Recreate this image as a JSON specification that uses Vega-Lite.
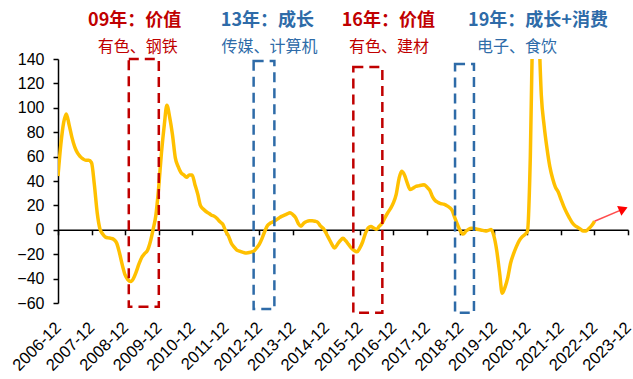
{
  "$schema": "https://vega.github.io/schema/vega-lite/v6.json",
  "width": 570,
  "height": 244,
  "autosize": {"type": "none"},
  "padding": {"left": 58, "top": 59, "right": 5, "bottom": 76},
  "background": "white",
  "config": {
    "view": {"stroke": null},
    "font": "Liberation Sans",
    "axis": {"labelOverlap": false}
  },
  "datasets": {
    "series": [
      {"date": "2006-12-01", "value": 44},
      {"date": "2007-01-01", "value": 70}, {"date": "2007-02-01", "value": 88}, {"date": "2007-03-01", "value": 95},
      {"date": "2007-04-01", "value": 86}, {"date": "2007-05-01", "value": 76}, {"date": "2007-06-01", "value": 68},
      {"date": "2007-07-01", "value": 63}, {"date": "2007-08-01", "value": 60}, {"date": "2007-09-01", "value": 58},
      {"date": "2007-10-01", "value": 57}, {"date": "2007-11-01", "value": 57}, {"date": "2007-12-01", "value": 55},
      {"date": "2008-01-01", "value": 37}, {"date": "2008-02-01", "value": 14}, {"date": "2008-03-01", "value": 1},
      {"date": "2008-04-01", "value": -3.5}, {"date": "2008-05-01", "value": -6}, {"date": "2008-06-01", "value": -6.6},
      {"date": "2008-07-01", "value": -7}, {"date": "2008-08-01", "value": -8}, {"date": "2008-09-01", "value": -11},
      {"date": "2008-10-01", "value": -19}, {"date": "2008-11-01", "value": -29}, {"date": "2008-12-01", "value": -37},
      {"date": "2009-01-01", "value": -41}, {"date": "2009-02-01", "value": -42.4}, {"date": "2009-03-01", "value": -40},
      {"date": "2009-04-01", "value": -34.5}, {"date": "2009-05-01", "value": -28}, {"date": "2009-06-01", "value": -22.5},
      {"date": "2009-07-01", "value": -19.5}, {"date": "2009-08-01", "value": -17}, {"date": "2009-09-01", "value": -10},
      {"date": "2009-10-01", "value": 0}, {"date": "2009-11-01", "value": 12}, {"date": "2009-12-01", "value": 34},
      {"date": "2010-01-01", "value": 63}, {"date": "2010-02-01", "value": 86}, {"date": "2010-03-01", "value": 102},
      {"date": "2010-04-01", "value": 92}, {"date": "2010-05-01", "value": 78}, {"date": "2010-06-01", "value": 59},
      {"date": "2010-07-01", "value": 52}, {"date": "2010-08-01", "value": 47}, {"date": "2010-09-01", "value": 45},
      {"date": "2010-10-01", "value": 43}, {"date": "2010-11-01", "value": 45}, {"date": "2010-12-01", "value": 45},
      {"date": "2011-01-01", "value": 37}, {"date": "2011-02-01", "value": 29}, {"date": "2011-03-01", "value": 20},
      {"date": "2011-04-01", "value": 17}, {"date": "2011-05-01", "value": 15}, {"date": "2011-06-01", "value": 13.5},
      {"date": "2011-07-01", "value": 12}, {"date": "2011-08-01", "value": 11}, {"date": "2011-09-01", "value": 9},
      {"date": "2011-10-01", "value": 6.5}, {"date": "2011-11-01", "value": 4.5}, {"date": "2011-12-01", "value": -1},
      {"date": "2012-01-01", "value": -5}, {"date": "2012-02-01", "value": -11}, {"date": "2012-03-01", "value": -14},
      {"date": "2012-04-01", "value": -16.6}, {"date": "2012-05-01", "value": -17.5}, {"date": "2012-06-01", "value": -18.3},
      {"date": "2012-07-01", "value": -19}, {"date": "2012-08-01", "value": -18.8}, {"date": "2012-09-01", "value": -18.3},
      {"date": "2012-10-01", "value": -17.6}, {"date": "2012-11-01", "value": -15}, {"date": "2012-12-01", "value": -12},
      {"date": "2013-01-01", "value": -7}, {"date": "2013-02-01", "value": -1}, {"date": "2013-03-01", "value": 3.5},
      {"date": "2013-04-01", "value": 5.5}, {"date": "2013-05-01", "value": 6.5}, {"date": "2013-06-01", "value": 8},
      {"date": "2013-07-01", "value": 9.5}, {"date": "2013-08-01", "value": 11}, {"date": "2013-09-01", "value": 12},
      {"date": "2013-10-01", "value": 13}, {"date": "2013-11-01", "value": 14}, {"date": "2013-12-01", "value": 12.5},
      {"date": "2014-01-01", "value": 10}, {"date": "2014-02-01", "value": 5}, {"date": "2014-03-01", "value": 3},
      {"date": "2014-04-01", "value": 5.5}, {"date": "2014-05-01", "value": 6.8}, {"date": "2014-06-01", "value": 7.4},
      {"date": "2014-07-01", "value": 7.4}, {"date": "2014-08-01", "value": 7}, {"date": "2014-09-01", "value": 6},
      {"date": "2014-10-01", "value": 3}, {"date": "2014-11-01", "value": 1}, {"date": "2014-12-01", "value": -3},
      {"date": "2015-01-01", "value": -7.5}, {"date": "2015-02-01", "value": -12}, {"date": "2015-03-01", "value": -15},
      {"date": "2015-04-01", "value": -12}, {"date": "2015-05-01", "value": -9}, {"date": "2015-06-01", "value": -7},
      {"date": "2015-07-01", "value": -9}, {"date": "2015-08-01", "value": -12}, {"date": "2015-09-01", "value": -15},
      {"date": "2015-10-01", "value": -17}, {"date": "2015-11-01", "value": -18}, {"date": "2015-12-01", "value": -15},
      {"date": "2016-01-01", "value": -10}, {"date": "2016-02-01", "value": -3}, {"date": "2016-03-01", "value": 1.5},
      {"date": "2016-04-01", "value": 2.7}, {"date": "2016-05-01", "value": 1.5}, {"date": "2016-06-01", "value": 0.5},
      {"date": "2016-07-01", "value": 3}, {"date": "2016-08-01", "value": 5.5}, {"date": "2016-09-01", "value": 10},
      {"date": "2016-10-01", "value": 14}, {"date": "2016-11-01", "value": 17.5}, {"date": "2016-12-01", "value": 22},
      {"date": "2017-01-01", "value": 29}, {"date": "2017-02-01", "value": 42}, {"date": "2017-03-01", "value": 48},
      {"date": "2017-04-01", "value": 45}, {"date": "2017-05-01", "value": 38.5}, {"date": "2017-06-01", "value": 33},
      {"date": "2017-07-01", "value": 34}, {"date": "2017-08-01", "value": 35.5}, {"date": "2017-09-01", "value": 36},
      {"date": "2017-10-01", "value": 36.5}, {"date": "2017-11-01", "value": 37}, {"date": "2017-12-01", "value": 35},
      {"date": "2018-01-01", "value": 32.5}, {"date": "2018-02-01", "value": 27}, {"date": "2018-03-01", "value": 24},
      {"date": "2018-04-01", "value": 22.5}, {"date": "2018-05-01", "value": 21.5}, {"date": "2018-06-01", "value": 21},
      {"date": "2018-07-01", "value": 20}, {"date": "2018-08-01", "value": 18.5}, {"date": "2018-09-01", "value": 16},
      {"date": "2018-10-01", "value": 10}, {"date": "2018-11-01", "value": 4}, {"date": "2018-12-01", "value": -1},
      {"date": "2019-01-01", "value": -3.5}, {"date": "2019-02-01", "value": -1}, {"date": "2019-03-01", "value": 0.5},
      {"date": "2019-04-01", "value": 1.2}, {"date": "2019-05-01", "value": 1}, {"date": "2019-06-01", "value": 0.5},
      {"date": "2019-07-01", "value": 0}, {"date": "2019-08-01", "value": -0.5}, {"date": "2019-09-01", "value": -1},
      {"date": "2019-10-01", "value": -0.5}, {"date": "2019-11-01", "value": 0.3}, {"date": "2019-12-01", "value": -5},
      {"date": "2020-01-01", "value": -17}, {"date": "2020-02-01", "value": -35}, {"date": "2020-03-01", "value": -52},
      {"date": "2020-04-01", "value": -47}, {"date": "2020-05-01", "value": -39}, {"date": "2020-06-01", "value": -27},
      {"date": "2020-07-01", "value": -20}, {"date": "2020-08-01", "value": -14}, {"date": "2020-09-01", "value": -9},
      {"date": "2020-10-01", "value": -6}, {"date": "2020-11-01", "value": -4}, {"date": "2020-12-01", "value": -1},
      {"date": "2021-01-01", "value": 60}, {"date": "2021-02-01", "value": 190}, {"date": "2021-03-01", "value": 230},
      {"date": "2021-04-01", "value": 170}, {"date": "2021-05-01", "value": 110}, {"date": "2021-06-01", "value": 85},
      {"date": "2021-07-01", "value": 67}, {"date": "2021-08-01", "value": 52}, {"date": "2021-09-01", "value": 42},
      {"date": "2021-10-01", "value": 35}, {"date": "2021-11-01", "value": 31}, {"date": "2021-12-01", "value": 25},
      {"date": "2022-01-01", "value": 19}, {"date": "2022-02-01", "value": 14}, {"date": "2022-03-01", "value": 10},
      {"date": "2022-04-01", "value": 6}, {"date": "2022-05-01", "value": 3.5}, {"date": "2022-06-01", "value": 2},
      {"date": "2022-07-01", "value": 0.5}, {"date": "2022-08-01", "value": -1}, {"date": "2022-09-01", "value": -1},
      {"date": "2022-10-01", "value": 1}, {"date": "2022-11-01", "value": 3.5}, {"date": "2022-12-01", "value": 7}
    ],
    "periods": [
      {"date": "2009-01-10", "end": "2009-12-03", "value": 140, "bottom": -63, "theme": "价值"},
      {"date": "2012-10-01", "end": "2013-05-15", "value": 138.4, "bottom": -65, "theme": "成长"},
      {"date": "2015-09-22", "end": "2016-08-03", "value": 133.4, "bottom": -68, "theme": "价值"},
      {"date": "2018-10-04", "end": "2019-04-28", "value": 136, "bottom": -68, "theme": "成长"}
    ],
    "headings": [
      {"date": "2009-03-15", "value": 171, "text": "09年：价值", "theme": "价值"},
      {"date": "2013-03-01", "value": 171, "text": "13年：成长", "theme": "成长"},
      {"date": "2016-10-07", "value": 171, "text": "16年：价值", "theme": "价值"},
      {"date": "2021-03-25", "value": 171, "text": "19年：成长+消费", "theme": "成长"}
    ],
    "sectors": [
      {"date": "2009-04-18", "value": 150, "text": "有色、钢铁", "theme": "价值"},
      {"date": "2013-03-22", "value": 150, "text": "传媒、计算机", "theme": "成长"},
      {"date": "2016-10-15", "value": 150, "text": "有色、建材", "theme": "价值"},
      {"date": "2020-08-10", "value": 150, "text": "电子、食饮", "theme": "成长"}
    ],
    "outlook": [
      {"date": "2022-12-01", "value": 7},
      {"date": "2023-11-10", "value": 18}
    ],
    "outlookHead": [
      {"date": "2023-10-12", "value": 17}
    ]
  },
  "encoding": {
    "x": {
      "field": "date",
      "type": "temporal",
      "scale": {
        "type": "utc",
        "domain": [
          {"year": 2006, "month": 12, "date": 1, "utc": true},
          {"year": 2023, "month": 12, "date": 1, "utc": true}
        ]
      },
      "axis": {
        "title": null,
        "grid": false,
        "values": [
          {"year": 2006, "month": 12, "date": 1, "utc": true},
          {"year": 2007, "month": 12, "date": 1, "utc": true},
          {"year": 2008, "month": 12, "date": 1, "utc": true},
          {"year": 2009, "month": 12, "date": 1, "utc": true},
          {"year": 2010, "month": 12, "date": 1, "utc": true},
          {"year": 2011, "month": 12, "date": 1, "utc": true},
          {"year": 2012, "month": 12, "date": 1, "utc": true},
          {"year": 2013, "month": 12, "date": 1, "utc": true},
          {"year": 2014, "month": 12, "date": 1, "utc": true},
          {"year": 2015, "month": 12, "date": 1, "utc": true},
          {"year": 2016, "month": 12, "date": 1, "utc": true},
          {"year": 2017, "month": 12, "date": 1, "utc": true},
          {"year": 2018, "month": 12, "date": 1, "utc": true},
          {"year": 2019, "month": 12, "date": 1, "utc": true},
          {"year": 2020, "month": 12, "date": 1, "utc": true},
          {"year": 2021, "month": 12, "date": 1, "utc": true},
          {"year": 2022, "month": 12, "date": 1, "utc": true},
          {"year": 2023, "month": 12, "date": 1, "utc": true}
        ],
        "format": "%Y-%m",
        "offset": -73.2,
        "domainColor": "#000000",
        "domainWidth": 1.5,
        "tickColor": "#000000",
        "tickWidth": 1.5,
        "tickSize": 5,
        "labelAngle": -45,
        "labelAlign": "right",
        "labelBaseline": "middle",
        "labelPadding": 90,
        "labelFont": "Liberation Sans",
        "labelFontSize": 16.5,
        "labelColor": "#000000",
        "labelOverlap": false,
        "labelFlush": false,
        "labelBound": false
      }
    },
    "y": {
      "field": "value",
      "type": "quantitative",
      "scale": {"domain": [-60, 140], "nice": false, "zero": false},
      "axis": {
        "title": null,
        "grid": false,
        "values": [-60, -40, -20, 0, 20, 40, 60, 80, 100, 120, 140],
        "domainColor": "#000000",
        "domainWidth": 1.5,
        "tickColor": "#000000",
        "tickWidth": 1.5,
        "tickSize": 5,
        "labelPadding": 9,
        "labelFont": "Liberation Sans",
        "labelFontSize": 16,
        "labelColor": "#000000",
        "labelOverlap": false
      }
    }
  },
  "layer": [
    {
      "data": {"name": "series"},
      "mark": {"type": "line", "color": "#FFC000", "strokeWidth": 3.5, "interpolate": "monotone", "clip": true}
    },
    {
      "data": {"name": "periods"},
      "mark": {"type": "rect", "fill": null, "fillOpacity": 0, "strokeWidth": 2.5, "strokeDash": [10, 6]},
      "encoding": {
        "x2": {"field": "end"},
        "y2": {"field": "bottom"},
        "stroke": {
          "field": "theme",
          "type": "nominal",
          "scale": {"domain": ["价值", "成长"], "range": ["#C00000", "#2E6BA8"]},
          "legend": null
        }
      }
    },
    {
      "data": {"name": "headings"},
      "mark": {"type": "text", "font": "Noto Sans CJK SC", "fontSize": 18, "fontWeight": "bold", "align": "center", "baseline": "middle"},
      "encoding": {
        "text": {"field": "text"},
        "color": {
          "field": "theme",
          "type": "nominal",
          "scale": {"domain": ["价值", "成长"], "range": ["#C00000", "#2E6BA8"]},
          "legend": null
        }
      }
    },
    {
      "data": {"name": "sectors"},
      "mark": {"type": "text", "font": "Noto Sans CJK SC", "fontSize": 16, "align": "center", "baseline": "middle"},
      "encoding": {
        "text": {"field": "text"},
        "color": {
          "field": "theme",
          "type": "nominal",
          "scale": {"domain": ["价值", "成长"], "range": ["#C00000", "#2E6BA8"]},
          "legend": null
        }
      }
    },
    {
      "data": {"name": "outlook"},
      "mark": {"type": "line", "color": "#FF4D4D", "strokeWidth": 1.5}
    },
    {
      "data": {"name": "outlookHead"},
      "mark": {"type": "point", "shape": "triangle-right", "filled": true, "color": "#FF0000", "opacity": 1, "size": 110, "angle": 336}
    }
  ]
}
